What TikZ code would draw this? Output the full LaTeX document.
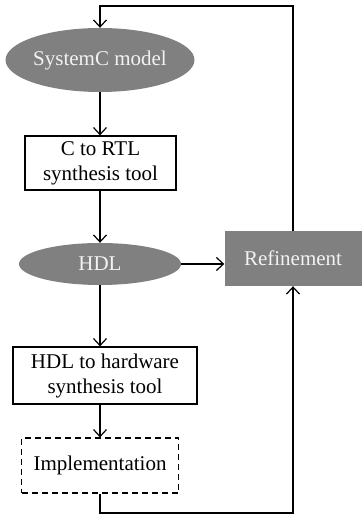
\documentclass[tikz,border=0pt]{standalone}
\usepackage{fontspec}
\setmainfont{Liberation Serif}
\usetikzlibrary{shapes.geometric,arrows.meta}
\definecolor{boxgray}{RGB}{128,128,128}
\definecolor{txtlight}{RGB}{242,242,242}
\begin{document}
\begin{tikzpicture}[x=1pt,y=1pt,
  every node/.style={font=\fontsize{21}{25}\selectfont, inner sep=0pt, align=center},
  line/.style={line width=1.2pt, draw=black},
  arr/.style={line, -{Straight Barb[length=7pt,width=13pt,line width=1.2pt]}},
  grayell/.style={ellipse, fill=boxgray, text=txtlight},
  graybox/.style={rectangle, fill=boxgray, text=txtlight},
  toolbox/.style={rectangle, draw=black, line width=1.2pt},
  implbox/.style={rectangle, draw=black, line width=1.2pt, dashed, dash pattern=on 6pt off 4pt}]
\useasboundingbox (0,0) rectangle (361,516);
\node[grayell, minimum width=184, minimum height=64] (sysc) at (100,456) {SystemC model};
\node[toolbox, minimum width=151, minimum height=54] (c2rtl) at (100.5,353) {C to RTL\\synthesis tool};
\node[grayell, minimum width=162, minimum height=42] (hdl) at (100,252) {HDL};
\node[graybox, minimum width=137, minimum height=55] (ref) at (293,257.5) {Refinement};
\node[toolbox, minimum width=184, minimum height=57] (hw) at (105,140.5) {HDL to hardware\\synthesis tool};
\node[implbox, minimum width=157, minimum height=55] (impl) at (100,50.5) {Implementation};
\coordinate (top) at (0,510);
\coordinate (bot) at (0,3);
\draw[arr] (sysc.south) -- (sysc.south |- c2rtl.north);
\draw[arr] (c2rtl.south -| hdl.north) -- (hdl.north);
\draw[arr] (hdl.east) -- (hdl.east -| ref.west);
\draw[arr] (hdl.south) -- (hdl.south |- hw.north);
\draw[arr] (hw.south -| impl.north) -- (impl.north);
\draw[arr] (ref.north) |- (sysc.north |- top) -- (sysc.north);
\draw[arr] (impl.south) |- (bot -| ref.south) -- (ref.south);
\end{tikzpicture}
\end{document}
